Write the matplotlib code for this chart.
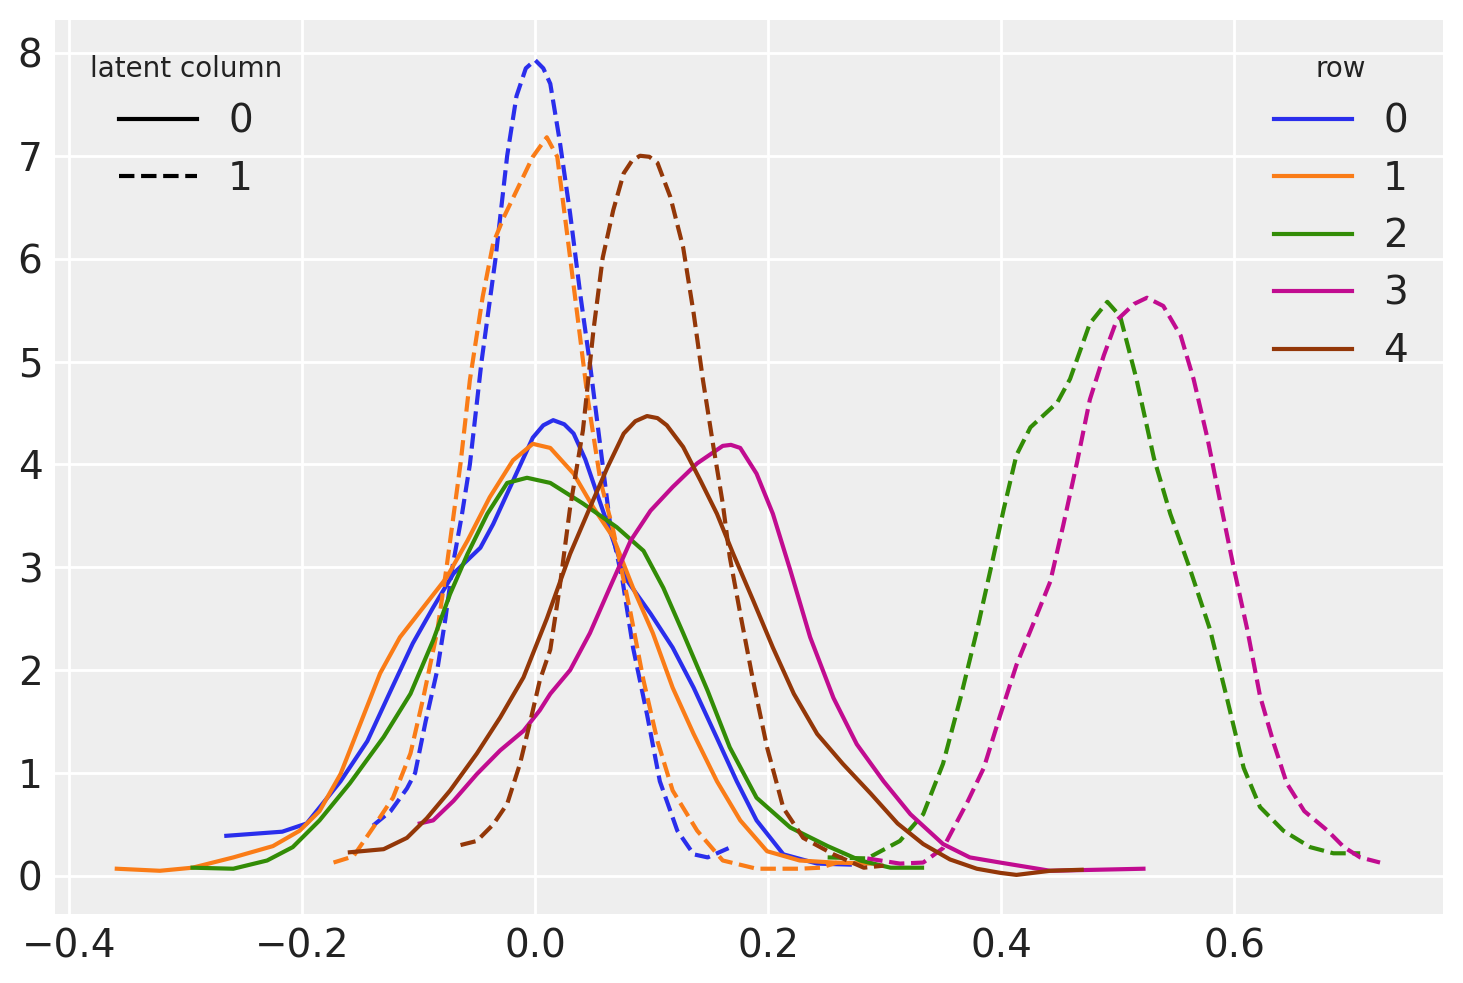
import matplotlib as mpl
mpl.use("Agg")
import matplotlib.pyplot as plt
from matplotlib.lines import Line2D

# darkgrid look (arviz-like)
mpl.rcParams['font.family'] = 'DejaVu Sans'
mpl.rcParams['axes.facecolor'] = '#eeeeee'
mpl.rcParams['axes.edgecolor'] = 'none'
mpl.rcParams['grid.color'] = 'white'
mpl.rcParams['grid.linewidth'] = 1.0
mpl.rcParams['xtick.major.size'] = 0
mpl.rcParams['ytick.major.size'] = 0
mpl.rcParams['xtick.major.pad'] = 4.8
mpl.rcParams['ytick.major.pad'] = 4.5
mpl.rcParams['xtick.labelsize'] = 14
mpl.rcParams['ytick.labelsize'] = 14
mpl.rcParams['text.color'] = '#222222'
mpl.rcParams['xtick.color'] = '#222222'
mpl.rcParams['ytick.color'] = '#222222'
mpl.rcParams['lines.solid_joinstyle'] = 'round'
mpl.rcParams['lines.dash_joinstyle'] = 'round'

colors = ["#2a2eec", "#fa7c17", "#328c06", "#c10c90", "#933708"]
rows = ["0", "1", "2", "3", "4"]
cols = ["0", "1"]

# KDE curves: (x, density)
row0_col0_x = [-0.265, -0.217, -0.196, -0.167, -0.144, -0.124, -0.105, -0.0875, -0.070, -0.047, -0.036, -0.019, -0.002, 0.007, 0.0155, 0.025, 0.033, 0.043, 0.053, 0.067, 0.079, 0.099, 0.118, 0.136, 0.156, 0.173, 0.190, 0.213, 0.242, 0.270]
row0_col0_y = [0.39, 0.43, 0.51, 0.92, 1.31, 1.80, 2.26, 2.61, 2.94, 3.19, 3.42, 3.84, 4.26, 4.38, 4.43, 4.39, 4.30, 4.05, 3.72, 3.26, 2.87, 2.55, 2.22, 1.83, 1.34, 0.92, 0.54, 0.21, 0.12, 0.11]

row0_col1_x = [-0.139, -0.124, -0.110, -0.103, -0.094, -0.084, -0.077, -0.071, -0.063, -0.056, -0.051, -0.046, -0.040, -0.034, -0.029, -0.024, -0.016, -0.008, 0.0, 0.007, 0.013, 0.021, 0.030, 0.039, 0.047, 0.056, 0.064, 0.075, 0.084, 0.096, 0.107, 0.122, 0.136, 0.148, 0.166]
row0_col1_y = [0.49, 0.63, 0.85, 1.0, 1.5, 2.0, 2.5, 3.0, 3.5, 4.0, 4.5, 5.0, 5.5, 6.0, 6.5, 7.0, 7.58, 7.85, 7.93, 7.85, 7.70, 7.15, 6.44, 5.63, 4.98, 4.17, 3.45, 2.87, 2.22, 1.57, 0.92, 0.44, 0.21, 0.18, 0.27]

row1_col0_x = [-0.359, -0.322, -0.294, -0.259, -0.225, -0.202, -0.185, -0.167, -0.150, -0.133, -0.116, -0.096, -0.076, -0.058, -0.039, -0.019, -0.002, 0.013, 0.033, 0.050, 0.067, 0.084, 0.101, 0.118, 0.136, 0.156, 0.176, 0.199, 0.227, 0.256, 0.288]
row1_col0_y = [0.07, 0.05, 0.08, 0.18, 0.29, 0.44, 0.63, 0.99, 1.48, 1.97, 2.32, 2.61, 2.90, 3.26, 3.68, 4.04, 4.20, 4.16, 3.91, 3.58, 3.29, 2.80, 2.36, 1.83, 1.38, 0.92, 0.54, 0.24, 0.15, 0.13, 0.12]

row1_col1_x = [-0.173, -0.156, -0.139, -0.122, -0.107, -0.096, -0.084, -0.076, -0.064, -0.056, -0.045, -0.036, -0.027, -0.013, -0.002, 0.010, 0.019, 0.027, 0.036, 0.045, 0.056, 0.067, 0.082, 0.093, 0.105, 0.118, 0.139, 0.161, 0.190, 0.227, 0.245, 0.259]
row1_col1_y = [0.13, 0.19, 0.47, 0.76, 1.19, 1.73, 2.38, 3.0, 4.01, 4.82, 5.63, 6.15, 6.40, 6.73, 6.99, 7.18, 6.99, 6.28, 5.47, 4.65, 3.84, 3.36, 2.55, 1.90, 1.31, 0.83, 0.44, 0.15, 0.07, 0.07, 0.08, 0.13]

row2_col0_x = [-0.294, -0.259, -0.230, -0.208, -0.185, -0.159, -0.130, -0.107, -0.0875, -0.073, -0.058, -0.041, -0.024, -0.007, 0.013, 0.041, 0.070, 0.093, 0.110, 0.127, 0.148, 0.167, 0.190, 0.219, 0.251, 0.279, 0.305, 0.332]
row2_col0_y = [0.08, 0.07, 0.15, 0.28, 0.54, 0.90, 1.35, 1.77, 2.29, 2.74, 3.13, 3.52, 3.82, 3.87, 3.82, 3.62, 3.39, 3.16, 2.80, 2.36, 1.80, 1.25, 0.76, 0.47, 0.29, 0.15, 0.08, 0.08]

row2_col1_x = [0.251, 0.285, 0.313, 0.333, 0.350, 0.365, 0.379, 0.393, 0.402, 0.413, 0.425, 0.448, 0.459, 0.476, 0.491, 0.502, 0.516, 0.531, 0.545, 0.562, 0.579, 0.594, 0.608, 0.622, 0.642, 0.665, 0.685, 0.708]
row2_col1_y = [0.18, 0.17, 0.34, 0.60, 1.09, 1.73, 2.38, 3.09, 3.56, 4.09, 4.36, 4.60, 4.83, 5.37, 5.58, 5.44, 4.83, 4.06, 3.52, 2.98, 2.40, 1.71, 1.05, 0.67, 0.44, 0.28, 0.22, 0.22]

row3_col0_x = [-0.099, -0.0875, -0.070, -0.050, -0.030, -0.010, 0.004, 0.013, 0.030, 0.047, 0.064, 0.082, 0.099, 0.118, 0.139, 0.161, 0.168, 0.176, 0.190, 0.204, 0.219, 0.236, 0.256, 0.276, 0.299, 0.322, 0.350, 0.373, 0.399, 0.442, 0.522]
row3_col0_y = [0.51, 0.54, 0.73, 0.99, 1.22, 1.41, 1.61, 1.77, 2.0, 2.36, 2.80, 3.26, 3.55, 3.78, 4.01, 4.18, 4.19, 4.16, 3.91, 3.52, 2.97, 2.32, 1.73, 1.28, 0.92, 0.60, 0.31, 0.18, 0.13, 0.05, 0.07]

row3_col1_x = [0.285, 0.313, 0.333, 0.350, 0.371, 0.385, 0.399, 0.413, 0.431, 0.442, 0.453, 0.465, 0.476, 0.488, 0.499, 0.514, 0.525, 0.539, 0.554, 0.565, 0.577, 0.588, 0.599, 0.611, 0.622, 0.634, 0.645, 0.660, 0.680, 0.694, 0.708, 0.725]
row3_col1_y = [0.17, 0.12, 0.13, 0.27, 0.72, 1.05, 1.56, 2.05, 2.55, 2.86, 3.40, 4.02, 4.63, 5.06, 5.40, 5.56, 5.62, 5.54, 5.25, 4.83, 4.25, 3.63, 3.02, 2.40, 1.75, 1.28, 0.90, 0.63, 0.44, 0.28, 0.18, 0.13]

row4_col0_x = [-0.159, -0.130, -0.110, -0.093, -0.073, -0.050, -0.030, -0.010, 0.010, 0.030, 0.047, 0.062, 0.076, 0.086, 0.096, 0.105, 0.113, 0.127, 0.142, 0.156, 0.170, 0.187, 0.204, 0.222, 0.242, 0.264, 0.288, 0.311, 0.333, 0.356, 0.379, 0.399, 0.413, 0.442, 0.469]
row4_col0_y = [0.23, 0.26, 0.37, 0.56, 0.83, 1.19, 1.54, 1.93, 2.50, 3.13, 3.58, 3.97, 4.30, 4.42, 4.47, 4.45, 4.38, 4.17, 3.84, 3.52, 3.13, 2.68, 2.22, 1.77, 1.38, 1.09, 0.80, 0.51, 0.31, 0.16, 0.07, 0.03, 0.01, 0.05, 0.06]

row4_col1_x = [-0.064, -0.050, -0.036, -0.024, -0.013, -0.004, 0.004, 0.013, 0.021, 0.030, 0.041, 0.050, 0.058, 0.067, 0.076, 0.083, 0.090, 0.098, 0.105, 0.116, 0.127, 0.136, 0.144, 0.153, 0.161, 0.167, 0.176, 0.187, 0.199, 0.213, 0.230, 0.256, 0.282, 0.299]
row4_col1_y = [0.30, 0.34, 0.50, 0.70, 1.09, 1.51, 1.90, 2.20, 2.80, 3.58, 4.33, 5.30, 6.01, 6.47, 6.83, 6.95, 7.0, 6.99, 6.93, 6.60, 6.11, 5.47, 4.82, 4.17, 3.62, 3.10, 2.55, 1.90, 1.25, 0.66, 0.37, 0.21, 0.08, 0.10]

curves = [
    (row0_col0_x, row0_col0_y, 0, 0), (row0_col1_x, row0_col1_y, 0, 1),
    (row1_col0_x, row1_col0_y, 1, 0), (row1_col1_x, row1_col1_y, 1, 1),
    (row2_col0_x, row2_col0_y, 2, 0), (row2_col1_x, row2_col1_y, 2, 1),
    (row3_col0_x, row3_col0_y, 3, 0), (row3_col1_x, row3_col1_y, 3, 1),
    (row4_col0_x, row4_col0_y, 4, 0), (row4_col1_x, row4_col1_y, 4, 1),
]
styles = ["-", "--"]

fig = plt.figure(figsize=(7.315, 4.915), dpi=200)
ax = fig.add_subplot(111)
fig.subplots_adjust(left=0.0376, right=0.9863, top=0.9797, bottom=0.0702)

for x, y, r, c in curves:
    ax.plot(x, y, color=colors[r], linestyle=styles[c], linewidth=1.5)

ax.grid(True)
ax.set_axisbelow(True)
ax.set_xlim(-0.412, 0.779)
ax.set_ylim(-0.37, 8.32)
ax.set_xticks([-0.4, -0.2, 0.0, 0.2, 0.4, 0.6])
ax.set_yticks(range(0, 9))

col_handles = [Line2D([], [], color='black', linestyle=s, linewidth=1.5) for s in styles]
leg1 = ax.legend(col_handles, cols, title="latent column", loc="upper left",
                 frameon=False, fontsize=14, title_fontsize=10)
ax.add_artist(leg1)
row_handles = [Line2D([], [], color=c, linestyle="-", linewidth=1.5) for c in colors]
ax.legend(row_handles, rows, title="row", loc="upper right",
          frameon=False, fontsize=14, title_fontsize=10)

fig.savefig("out.png", dpi=200)
